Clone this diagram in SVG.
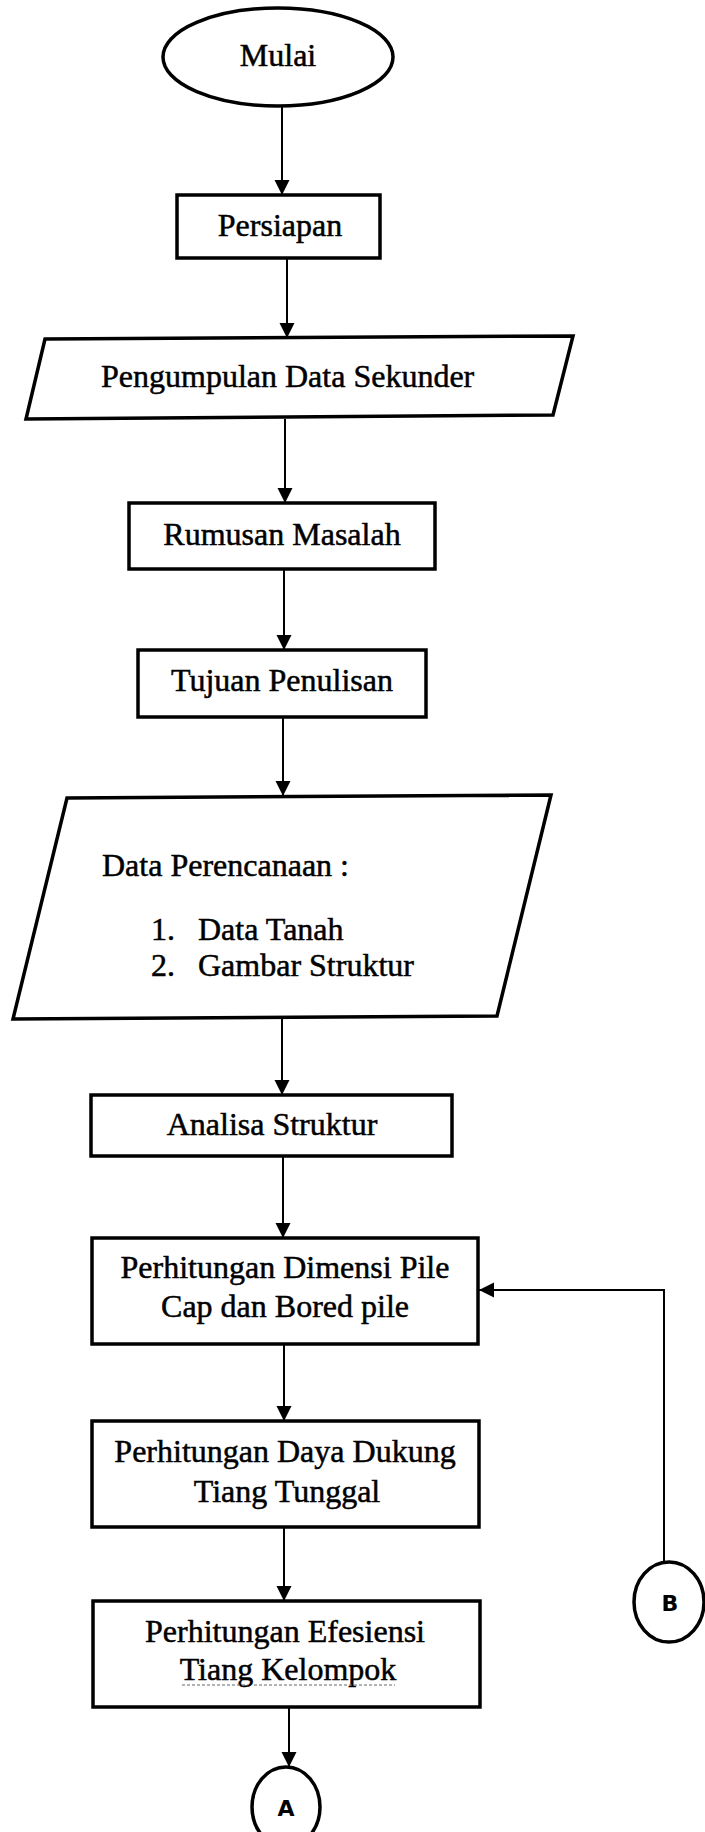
<svg xmlns="http://www.w3.org/2000/svg" width="705" height="1832" viewBox="0 0 705 1832">
  <defs>
    <marker id="arrow" markerUnits="userSpaceOnUse" markerWidth="16" markerHeight="16" refX="15" refY="7.5" orient="auto">
      <path d="M0,0 L15,7.5 L0,15 Z" fill="#000"/>
    </marker>
  </defs>
  <style>
    .shape{fill:#fff;stroke:#000;stroke-width:3.5}
    .conn{fill:none;stroke:#000;stroke-width:2}
    .lbl{font-family:"Liberation Serif","Times New Roman",serif;font-size:32px;fill:#000;stroke:#000;stroke-width:0.5}
    .mid{text-anchor:middle}
    .clbl{font-family:"DejaVu Sans",sans-serif;font-weight:bold;font-size:22px;text-anchor:middle;fill:#000}
  </style>
  <rect x="0" y="0" width="705" height="1832" fill="#fff"/>

  <!-- connectors -->
  <g id="connectors">
    <path class="conn" d="M282,107 L282,195" marker-end="url(#arrow)"/>
    <path class="conn" d="M287,258 L287,338" marker-end="url(#arrow)"/>
    <path class="conn" d="M285,419 L285,503" marker-end="url(#arrow)"/>
    <path class="conn" d="M284,569 L284,650" marker-end="url(#arrow)"/>
    <path class="conn" d="M283,717 L283,796" marker-end="url(#arrow)"/>
    <path class="conn" d="M282,1018 L282,1095" marker-end="url(#arrow)"/>
    <path class="conn" d="M283,1156 L283,1238" marker-end="url(#arrow)"/>
    <path class="conn" d="M284,1344 L284,1421" marker-end="url(#arrow)"/>
    <path class="conn" d="M284,1527 L284,1601" marker-end="url(#arrow)"/>
    <path class="conn" d="M289,1707 L289,1767" marker-end="url(#arrow)"/>
    <path class="conn" d="M664,1562 L664,1290 L479,1290" marker-end="url(#arrow)"/>
  </g>

  <g id="mulai">
    <ellipse class="shape" cx="278" cy="57" rx="115" ry="49"/>
    <text class="lbl mid" x="278" y="66">Mulai</text>
  </g>

  <g id="persiapan">
    <rect class="shape" x="177" y="195" width="203" height="63"/>
    <text class="lbl mid" x="280" y="236">Persiapan</text>
  </g>

  <g id="pengumpulan-data">
    <polygon class="shape" points="45,339 573,336 553,415 26,419"/>
    <text class="lbl" x="101" y="387">Pengumpulan Data Sekunder</text>
  </g>

  <g id="rumusan-masalah">
    <rect class="shape" x="129" y="503" width="306" height="66"/>
    <text class="lbl mid" x="282" y="545">Rumusan Masalah</text>
  </g>

  <g id="tujuan-penulisan">
    <rect class="shape" x="138" y="650" width="288" height="67"/>
    <text class="lbl mid" x="282" y="691">Tujuan Penulisan</text>
  </g>

  <g id="data-perencanaan">
    <polygon class="shape" points="67,798 551,795 497,1016 13,1019"/>
    <text class="lbl" x="102" y="876">Data Perencanaan :</text>
    <text class="lbl" x="151" y="940">1.</text>
    <text class="lbl" x="198" y="940">Data Tanah</text>
    <text class="lbl" x="151" y="976">2.</text>
    <text class="lbl" x="198" y="976">Gambar Struktur</text>
  </g>

  <g id="analisa-struktur">
    <rect class="shape" x="91" y="1095" width="361" height="61"/>
    <text class="lbl mid" x="272" y="1135">Analisa Struktur</text>
  </g>

  <g id="dimensi-pile">
    <rect class="shape" x="92" y="1238" width="386" height="106"/>
    <text class="lbl mid" x="285" y="1278">Perhitungan Dimensi Pile</text>
    <text class="lbl mid" x="285" y="1317">Cap dan Bored pile</text>
  </g>

  <g id="daya-dukung">
    <rect class="shape" x="92" y="1421" width="387" height="106"/>
    <text class="lbl mid" x="285" y="1462">Perhitungan Daya Dukung</text>
    <text class="lbl mid" x="287" y="1502">Tiang Tunggal</text>
  </g>

  <g id="efesiensi">
    <rect class="shape" x="93" y="1601" width="387" height="106"/>
    <text class="lbl mid" x="285" y="1642">Perhitungan Efesiensi</text>
    <text class="lbl mid" x="288" y="1680">Tiang Kelompok</text>
    <path d="M182,1685 L248,1685 M254,1685 L395,1685" fill="none" stroke="#666" stroke-width="1" stroke-dasharray="3 2"/>
  </g>

  <g id="konektor-a">
    <ellipse class="shape" cx="286" cy="1807" rx="34" ry="40"/>
    <text class="clbl" x="286" y="1816">A</text>
  </g>

  <g id="konektor-b">
    <ellipse class="shape" cx="669" cy="1602" rx="35" ry="40"/>
    <text class="clbl" x="670" y="1611">B</text>
  </g>
</svg>
